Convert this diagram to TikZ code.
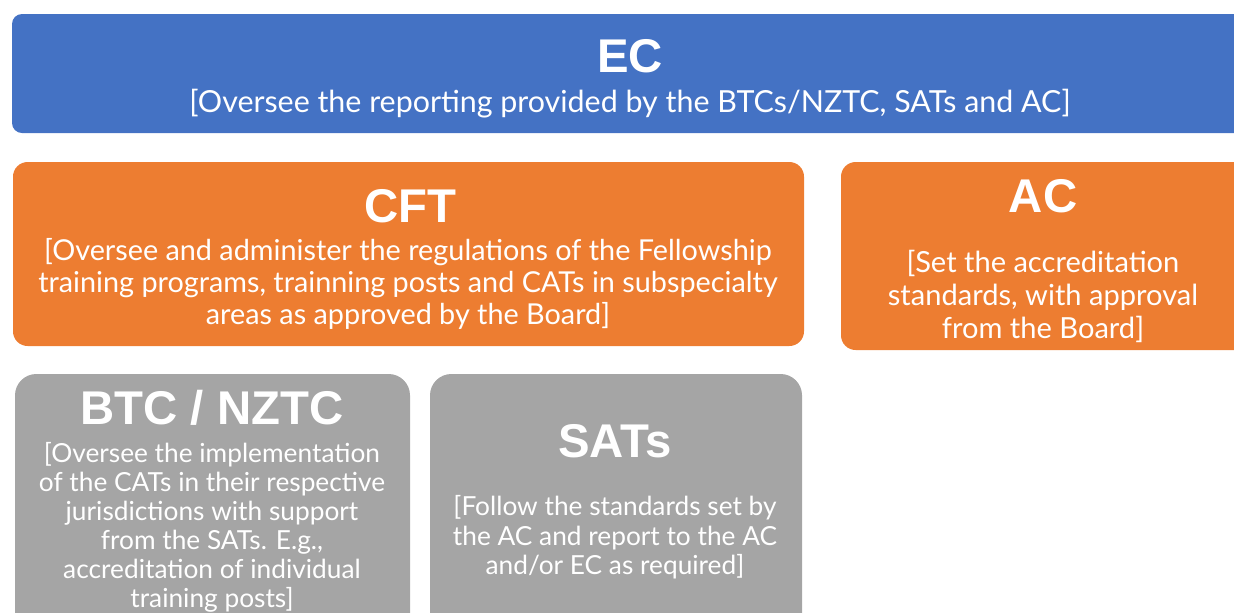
\documentclass[tikz,border=0pt]{standalone}
\usepackage{fontspec}
\setmainfont{Lato}
\newfontfamily\headfont{Liberation Sans}
\definecolor{ecblue}{HTML}{4472C4}
\definecolor{cftorange}{HTML}{ED7D31}
\definecolor{btcgray}{HTML}{A5A5A5}
\begin{document}
\begin{tikzpicture}[x=0.75pt,y=-0.75pt,
    head/.style={text=white,inner sep=0pt,anchor=base,font=\headfont\bfseries\fontsize{35.5}{40}\selectfont},
    body/.style={text=white,inner sep=0pt,align=center}]
    \clip (0,0) rectangle (1234,612);
    \fill[ecblue,rounded corners=7.5pt] (12,14) rectangle (1270,133);
    \fill[cftorange,rounded corners=11pt] (13,162) rectangle (804,346);
    \fill[cftorange,rounded corners=11pt] (841,162) rectangle (1270,350);
    \fill[btcgray,rounded corners=16pt] (15,374) rectangle (410,660);
    \fill[btcgray,rounded corners=16pt] (430,374) rectangle (802,660);
    \node[head] (ectitle) at (630,72) {EC};
    \node[body,anchor=base,font=\fontsize{22.8}{24}\selectfont] (ectext) at (630,112)
        {[Oversee the reporting provided by the BTCs/NZTC, SATs and AC]};
    \node[head] (cfttitle) at (410,222) {CFT};
    \node[body,font=\fontsize{21.6}{24}\selectfont] (cfttext) at (408,284)
        {[Oversee and administer the regulations of the Fellowship\\
        training programs, trainning posts and CATs in subspecialty\\
        areas as approved by the Board]};
    \node[head] (actitle) at (1043,212) {AC};
    \node[body,font=\fontsize{21.8}{24.75}\selectfont] (actext) at (1043,296.5)
        {[Set the accreditation\\ standards, with approval\\ from the Board]};
    \node[head] (btctitle) at (212,424) {BTC / NZTC};
    \node[body,font=\fontsize{19.7}{21.75}\selectfont] (btctext) at (212,527.5)
        {[Oversee the implementation\\ of the CATs in their respective\\
        jurisdictions with support\\ from the SATs. E.g.,\\
        accreditation of individual\\ training posts]};
    \node[head] (satstitle) at (615,457) {SATs};
    \node[body,font=\fontsize{19.7}{22}\selectfont] (satstext) at (615,537.5)
        {[Follow the standards set by\\ the AC and report to the AC\\ and/or EC as required]};
\end{tikzpicture}
\end{document}
